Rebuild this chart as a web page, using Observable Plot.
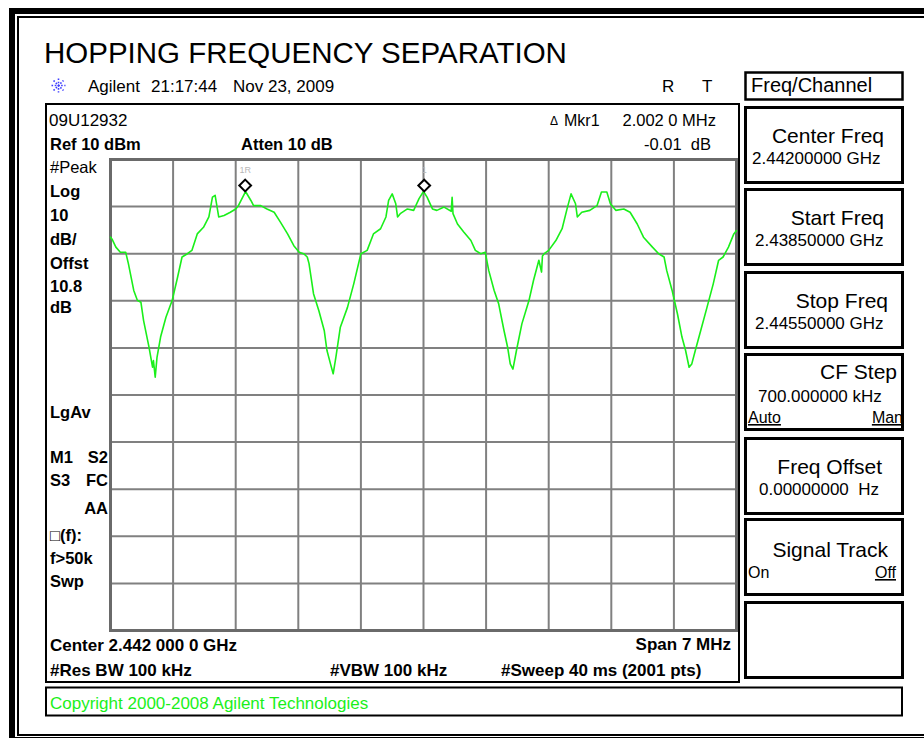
<!DOCTYPE html>
<html><head><meta charset="utf-8">
<script src="https://cdn.jsdelivr.net/npm/d3@7"></script>
<script src="https://cdn.jsdelivr.net/npm/@observablehq/plot@0.6"></script>
<style>body{margin:0;background:#fff}#chart svg{display:block}</style>
</head><body><div id="chart"></div>
<script>
// ---- Data ----
const startFreqMHz = 2438.5, stopFreqMHz = 2445.5;
const refLevelDbm = 10, bottomLevelDbm = -90;
const freqMHz = [
 2438.50,2438.52,2438.56,2438.61,2438.67,2438.70,2438.76,2438.80,2438.84,2438.87,
 2438.93,2438.97,2438.98,2439.00,2439.02,2439.06,2439.12,2439.19,2439.25,2439.30,
 2439.36,2439.41,2439.47,2439.54,2439.60,2439.64,2439.67,2439.71,2439.77,2439.84,
 2439.90,2439.93,2440.01,2440.07,2440.10,2440.18,2440.25,2440.33,2440.40,2440.48,
 2440.55,2440.61,2440.66,2440.70,2440.72,2440.77,2440.83,2440.89,2440.92,2440.96,
 2440.99,2441.02,2441.07,2441.15,2441.22,2441.30,2441.37,2441.44,2441.52,2441.58,
 2441.61,2441.65,2441.69,2441.71,2441.74,2441.82,2441.89,2441.95,2442.00,2442.04,
 2442.10,2442.15,2442.23,2442.31,2442.32,2442.33,2442.38,2442.45,2442.53,2442.58,
 2442.64,2442.69,2442.73,2442.79,2442.84,2442.90,2442.94,2442.97,2443.00,2443.04,
 2443.10,2443.18,2443.23,2443.29,2443.32,2443.33,2443.35,2443.40,2443.48,2443.55,
 2443.61,2443.65,2443.70,2443.72,2443.77,2443.86,2443.94,2443.99,2444.05,2444.09,
 2444.15,2444.24,2444.31,2444.39,2444.46,2444.56,2444.63,2444.69,2444.72,2444.78,
 2444.84,2444.89,2444.93,2444.97,2445.00,2445.04,2445.10,2445.17,2445.24,2445.30,
 2445.35,2445.41,2445.47,2445.50
];
const levelDbm = [
 -6.5,-7.0,-8.6,-9.7,-9.7,-12.1,-17.8,-19.9,-20.3,-24.2,
 -29.8,-34.1,-32.7,-36.2,-32.0,-27.7,-23.5,-19.9,-15.0,-10.7,
 -10.0,-9.3,-5.8,-4.4,-2.2,2.0,2.4,-2.2,-1.9,-1.2,
 -0.5,0.2,3.2,1.3,0.2,0.2,-0.5,-1.2,-3.3,-5.8,
 -8.3,-9.7,-10.0,-10.7,-12.1,-18.5,-22.1,-26.3,-30.5,-33.4,
 -35.5,-32.0,-25.6,-21.4,-16.4,-10.0,-9.3,-5.8,-4.7,-2.2,
 1.3,2.7,0.6,-2.2,-1.5,-0.5,-0.8,1.7,3.2,2.0,
 -0.5,-0.8,-0.1,-1.0,2.0,-1.5,-3.7,-5.4,-7.2,-9.3,
 -10.0,-9.7,-13.6,-17.8,-20.6,-26.3,-29.8,-33.4,-34.5,-30.5,
 -24.9,-19.9,-15.7,-11.4,-13.9,-10.5,-10.0,-9.3,-7.2,-4.7,
 -0.1,2.7,0.6,-2.2,-1.2,-0.8,0.2,3.1,3.1,0.6,
 -0.8,-0.5,-1.2,-3.7,-6.5,-8.6,-10.0,-10.7,-13.6,-17.8,
 -22.8,-27.7,-30.5,-34.1,-33.4,-30.5,-26.3,-21.4,-16.4,-11.4,
 -10.7,-8.6,-5.8,-5.1
];
const markerFreqMHz = [2440.006, 2442.008];
const markerLevelDbm = [3.2, 3.19];
const markerLabels = ["1R", "1"];
const gridFreqMHz = [2439.2, 2439.9, 2440.6, 2441.3, 2442.0, 2442.7, 2443.4, 2444.1, 2444.8];
const gridLevelDbm = [0, -10, -20, -30, -40, -50, -60, -70, -80];

// ---- Texts ----
const titleText = "HOPPING FREQUENCY SEPARATION";
const headerTexts = ["Agilent", "21:17:44", "Nov 23, 2009", "R", "T"];
const menuTitle = "Freq/Channel";
const softkeyTitles = ["Center Freq", "Start Freq", "Stop Freq", "CF Step", "Freq Offset", "Signal Track", ""];
const softkeyValues = ["2.44200000 GHz", "2.43850000 GHz", "2.44550000 GHz", "700.000000 kHz", "0.00000000  Hz", "", ""];
const leftLabels = ["#Peak", "Log", "10", "dB/", "Offst", "10.8", "dB", "LgAv"];
const statusLabels = [["M1", "S2"], ["S3", "FC"], ["", "AA"]];
const lowerLeftLabels = ["\u25A1(f):", "f>50k", "Swp"];
const copyrightText = "Copyright 2000-2008 Agilent Technologies";

// ---- Plot ----
const rows = freqMHz.map((f, i) => ({f, d: levelDbm[i]}));
const markers = markerFreqMHz.map((f, i) => ({f, d: markerLevelDbm[i], label: markerLabels[i]}));
const FONT = "'Liberation Sans', Arial, sans-serif";
const GREEN = "#1aef1a";

const chart = Plot.plot({
  width: 924, height: 738,
  marginLeft: 110, marginRight: 188, marginTop: 159, marginBottom: 108,
  x: {domain: [startFreqMHz, stopFreqMHz], axis: null},
  y: {domain: [bottomLevelDbm, refLevelDbm], axis: null},
  style: {background: "white", fontFamily: FONT, overflow: "visible"},
  marks: [
    Plot.ruleX(gridFreqMHz, {stroke: "#808080", strokeWidth: 2, strokeOpacity: 1}),
    Plot.ruleY(gridLevelDbm, {stroke: "#808080", strokeWidth: 2, strokeOpacity: 1}),
    Plot.frame({stroke: "#6a6a6a", strokeWidth: 3}),
    Plot.text(markers, {x: "f", y: "d", text: "label", dy: -21, fill: "#b8b8b8", fontSize: 9}),
    Plot.line(rows, {x: "f", y: "d", stroke: GREEN, strokeWidth: 1.6}),
    Plot.dot(markers, {x: "f", y: "d", symbol: "diamond2", r: 5.3, stroke: "black", fill: "white", strokeWidth: 2, dy: -6})
  ]
});
document.getElementById("chart").appendChild(chart);

// ---- Instrument decorations ----
const svg = d3.select(chart);
const deco = svg.append("g").attr("fill", "none").attr("stroke", "black");
// outer frame
deco.append("rect").attr("x", 12).attr("y", 11).attr("width", 1000).attr("height", 729).attr("stroke-width", 6);
deco.append("rect").attr("x", 18).attr("y", 17).attr("width", 1000).attr("height", 718).attr("stroke-width", 2);
// screen box
deco.append("rect").attr("x", 46).attr("y", 104).attr("width", 693).attr("height", 578).attr("stroke-width", 2);
// copyright box
deco.append("rect").attr("x", 46).attr("y", 687.5).attr("width", 856).attr("height", 28).attr("stroke-width", 2);
// menu title box
deco.append("rect").attr("x", 745.5).attr("y", 72.5).attr("width", 157).attr("height", 27).attr("stroke-width", 2.5);
// softkeys
const skTops = [106, 188, 271, 353, 437, 518, 601];
skTops.forEach(t => deco.append("rect").attr("x", 745.5).attr("y", t + 1.5).attr("width", 157).attr("height", 75).attr("stroke-width", 3));

// Agilent logo (dotted spark)
const logo = svg.append("g").attr("stroke", "#3c3cff").attr("stroke-width", 1.6).attr("stroke-dasharray", "1.6,1.6");
[[0, 1], [1, 0], [0.707, 0.707], [0.707, -0.707]].forEach(([dx, dy]) =>
  logo.append("line").attr("x1", 58.5 - 7 * dx).attr("y1", 85.5 - 7 * dy).attr("x2", 58.5 + 7 * dx).attr("y2", 85.5 + 7 * dy));

const txt = svg.append("g").attr("font-family", FONT).attr("fill", "black").attr("text-anchor", "start").style("white-space", "pre");
function T(s, x, y, size, opts = {}) {
  const t = txt.append("text").attr("x", x).attr("y", y).attr("font-size", size)
    .attr("text-anchor", opts.anchor || "start").style("white-space", "pre").text(s);
  if (opts.bold) t.attr("font-weight", "bold");
  if (opts.fill) t.attr("fill", opts.fill);
  if (opts.underline) t.attr("text-decoration", "underline");
  return t;
}
T(titleText, 44, 63, 29.5);
T(headerTexts[0], 88, 92, 17);
T(headerTexts[1], 151, 92, 17);
T(headerTexts[2], 233, 92, 17);
T(headerTexts[3], 662, 92, 17);
T(headerTexts[4], 702, 92, 17);
T(menuTitle, 751, 92, 20);

// softkey texts
const skTitleRight = [884, 884, 888, 897, 882, 888];
const skTitleDy = [37, 37, 37, 26, 37, 39];
const skValueX = [752, 755, 755, 758, 759];
const skValueDy = [58, 58, 58, 49, 58];
softkeyTitles.forEach((s, i) => { if (s) T(s, skTitleRight[i], skTops[i] + skTitleDy[i], 21, {anchor: "end"}); });
softkeyValues.forEach((s, i) => { if (s) T(s, skValueX[i], skTops[i] + skValueDy[i], 17); });
T("Auto", 748, skTops[3] + 70, 16, {underline: true});
T("Man", 903, skTops[3] + 70, 16, {anchor: "end", underline: true});
T("On", 748, skTops[5] + 60, 16);
T("Off", 896, skTops[5] + 60, 16, {anchor: "end", underline: true});

// screen annotations
T("09U12932", 49, 126, 17);
T("Ref 10 dBm", 50, 150, 16.5, {bold: true});
T("Atten 10 dB", 241, 150, 16.5, {bold: true});
T("\u0394", 550, 125, 12);
T("Mkr1", 564, 126, 16);
T("2.002 0 MHz", 716, 126, 16.5, {anchor: "end"});
T("-0.01  dB", 711, 150, 16.5, {anchor: "end"});
const leftY = [172.5, 197, 221, 245, 269, 292, 312.5, 417.5];
leftLabels.forEach((s, i) => T(s, 50, leftY[i], 16.5, {bold: i !== 0}));
const statusY = [462.5, 486, 514];
statusLabels.forEach(([a, b], i) => { if (a) T(a, 50, statusY[i], 16.5, {bold: true}); T(b, 108, statusY[i], 16.5, {bold: true, anchor: "end"}); });
const lowerY = [541, 564, 586.5];
lowerLeftLabels.forEach((s, i) => T(s, 50, lowerY[i], 16.5, {bold: true}));
T("Center 2.442 000 0 GHz", 50, 651, 17, {bold: true});
T("Span 7 MHz", 731, 650, 17, {bold: true, anchor: "end"});
T("#Res BW 100 kHz", 50, 676, 17, {bold: true});
T("#VBW 100 kHz", 330, 676, 17, {bold: true});
T("#Sweep 40 ms (2001 pts)", 501, 676, 17, {bold: true});
T(copyrightText, 50, 709, 17, {fill: GREEN});
</script>
</body></html>
